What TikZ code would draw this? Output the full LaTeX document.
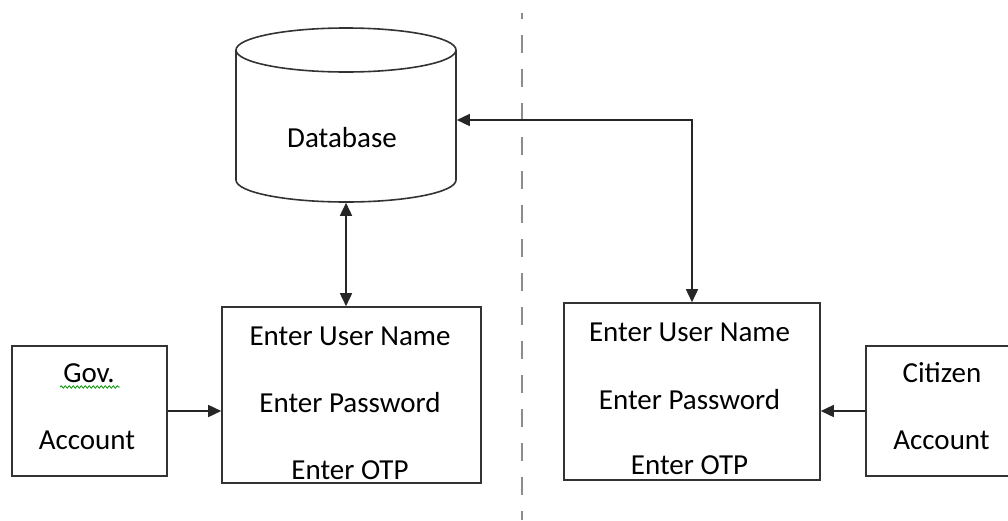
\documentclass[tikz,border=0pt]{standalone}
\usepackage{fontspec}
\setmainfont{Carlito}
\usetikzlibrary{arrows.meta,decorations.pathmorphing}

\begin{document}
\begin{tikzpicture}[
  x=1pt, y=-1pt,
  line width=1.6pt,
  >={Triangle[length=13pt,width=12pt]},
  box/.style={draw=black!80, inner sep=0pt},
  txt/.style={anchor=base, inner sep=0pt, font=\fontsize{29}{34}\selectfont, text=black},
  link/.style={draw=black!85, ->},
  both/.style={draw=black!85, <->},
]
\useasboundingbox (0,0) rectangle (1008,520);

% separator
\draw [black!45, line width=1.2pt, dash pattern=on 18pt off 16pt, dash phase=12pt] (522,13) -- (522,520);

% database
\node (db) [inner sep=0pt, minimum width=220pt, minimum height=174pt] at (346,115) {};
\draw [black!80] (236,50) -- (236,180) arc [start angle=180, end angle=360, x radius=110pt, y radius=22pt] -- (456,50);
\draw [black!80] (346,50) ellipse [x radius=110pt, y radius=22pt];
\node (dbtext) [txt] at (342,147) {Database};

% government side
\node (gov) [box, minimum width=155pt, minimum height=130pt] at (89.5,411) {};
\node (govtxt) [txt] at (89,382) {Gov.};
\node (govacc) [txt] at (87,449) {Account};
\draw [green!60!black, line width=0.8pt, decorate,
  decoration={snake, segment length=4pt, amplitude=1.2pt}] (60,387) -- (120,387);

\node (lbox) [box, minimum width=259pt, minimum height=176pt] at (351.5,395) {};
\node (lname) [txt] at (350,345) {Enter User Name};
\node (lpass) [txt] at (350,412) {Enter Password};
\node (lotp) [txt] at (350,479) {Enter OTP};

% citizen side
\node (rbox) [box, minimum width=256pt, minimum height=177pt] at (692,391.5) {};
\node (rname) [txt] at (689.5,341) {Enter User Name};
\node (rpass) [txt] at (689.5,409) {Enter Password};
\node (rotp) [txt] at (689.5,474) {Enter OTP};

\node (cit) [box, minimum width=152pt, minimum height=130pt] at (942,411) {};
\node (cittxt) [txt] at (942,382) {Citizen};
\node (citacc) [txt] at (941.5,449) {Account};

% connectors
\draw [both] (db.south) -- (db.south |- lbox.north);
\draw [both] (rbox.north) |- ([yshift=-5pt]db.east);
\draw [link] (gov.east) -- (gov.east -| lbox.west);
\draw [link] (cit.west) -- (cit.west -| rbox.east);

\end{tikzpicture}
\end{document}
